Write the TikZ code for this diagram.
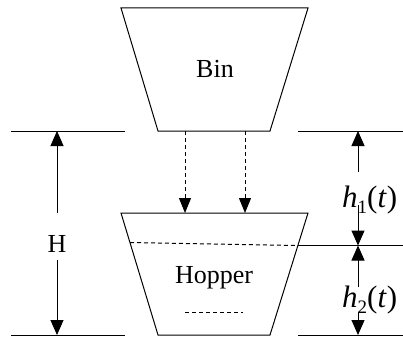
\documentclass[tikz,border=0pt]{standalone}
\usepackage{fontspec}
\setmainfont{Liberation Serif}
\usetikzlibrary{arrows.meta}
\tikzset{
  line/.style={line width=1pt},
  dim/.style={line width=1pt,-{Triangle[length=15pt,width=13pt]}},
  flow/.style={line width=1pt,dash pattern=on 4pt off 3pt,-{Triangle[length=15pt,width=12pt]}},
  lbl/.style={inner sep=0pt,font=\fontsize{26}{30}\selectfont},
  hlbl/.style={inner sep=0pt,anchor=base west,font=\fontsize{31}{34}\selectfont},
}
\newcommand{\subnum}[1]{\raisebox{-6pt}{\fontsize{19}{20}\selectfont #1}}
\begin{document}
\begin{tikzpicture}[x=1pt,y=-1pt]
\useasboundingbox (0,0) rectangle (403,339);
% Bin
\coordinate (bintl) at (121,8);
\coordinate (bintr) at (308,8);
\coordinate (binbr) at (270,131);
\coordinate (binbl) at (158,131);
\draw[line] (bintl) -- (bintr) -- (binbr) -- (binbl) -- cycle;
\node[lbl,anchor=base] (bin) at (215,78) {Bin};
% Hopper
\coordinate (hoptl) at (121,213);
\coordinate (hoptr) at (308,213);
\coordinate (hopbr) at (270,335);
\coordinate (hopbl) at (158,335);
\draw[line] (hoptl) -- (hoptr) -- (hopbr) -- (hopbl) -- cycle;
\node[lbl,anchor=base] (hopper) at (214,283) {Hopper};
% level in hopper
\coordinate (lvll) at (130,242.5);
\coordinate (lvlr) at (298,245.5);
\draw[line,dash pattern=on 4pt off 3pt] (lvll) -- (lvlr);
\coordinate (lvlend) at (403,245.5);
\draw[line] (lvlr) -- (lvlend);
\coordinate (smalll) at (185,312);
\coordinate (smallr) at (243,312);
\draw[line,dash pattern=on 4pt off 3pt] (smalll) -- (smallr);
% flow arrows
\coordinate (f1s) at (185,131);
\coordinate (f1e) at (185,213);
\coordinate (f2s) at (245,131);
\coordinate (f2e) at (245,213);
\draw[flow] (f1s) -- (f1e);
\draw[flow] (f2s) -- (f2e);
% reference lines
\coordinate (tl1) at (11,131);
\coordinate (tl2) at (125,131);
\coordinate (tr1) at (298,131);
\coordinate (tr2) at (403,131);
\coordinate (bl1) at (11,335);
\coordinate (bl2) at (125,335);
\coordinate (br1) at (298,335);
\coordinate (br2) at (403,335);
\draw[line] (tl1) -- (tl2);
\draw[line] (tr1) -- (tr2);
\draw[line] (bl1) -- (bl2);
\draw[line] (br1) -- (br2);
% H dimension
\coordinate (Htop) at (57,131);
\coordinate (Hbot) at (57,335);
\coordinate (Hg1) at (57,213);
\coordinate (Hg2) at (57,260);
\draw[dim] (Hg1) -- (Htop);
\draw[dim] (Hg2) -- (Hbot);
\node[lbl,anchor=base] (Hlab) at (57,252) {H};
% h1, h2 dimensions
\coordinate (rtop) at (358,131);
\coordinate (rmid) at (358,245.5);
\coordinate (rbot) at (358,335);
\coordinate (r1a) at (358,172);
\coordinate (r1b) at (358,205);
\coordinate (r2a) at (358,287);
\coordinate (r2b) at (358,312);
\draw[dim] (r1a) -- (rtop);
\draw[dim] (r1b) -- (rmid);
\draw[dim] (r2a) -- (rmid);
\draw[dim] (r2b) -- (rbot);
\node[hlbl] (h1lab) at (342,207) {\textit{h}\subnum{1}(\textit{t})};
\node[hlbl] (h2lab) at (342,307) {\textit{h}\subnum{2}(\textit{t})};
\end{tikzpicture}
\end{document}
